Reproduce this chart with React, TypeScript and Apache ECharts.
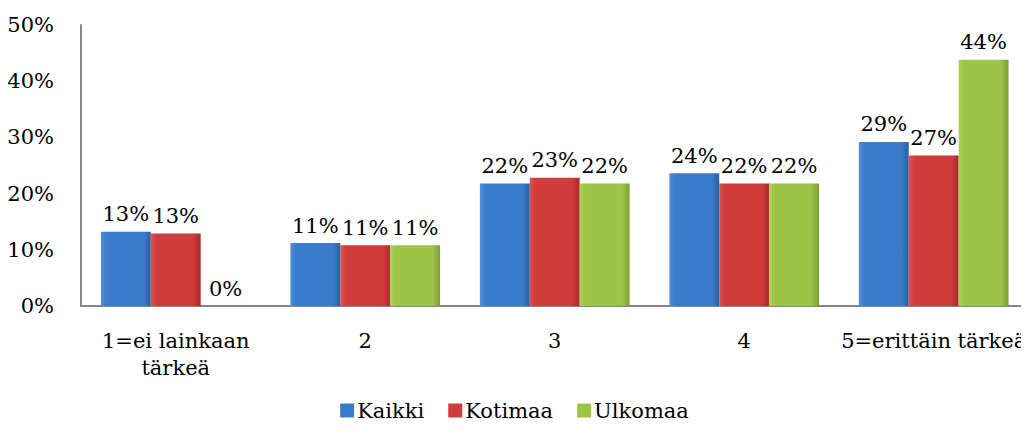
import React, { useEffect, useRef } from "react";
import * as echarts from "echarts";

const categories = ["1=ei lainkaan\ntärkeä", "2", "3", "4", "5=erittäin tärkeä"];
const seriesNames = ["Kaikki", "Kotimaa", "Ulkomaa"];
const kaikki = [13.2, 11.2, 21.8, 23.6, 29.2];
const kotimaa = [12.9, 10.8, 22.8, 21.8, 26.8];
const ulkomaa = [0, 10.8, 21.8, 21.8, 43.8];
const yTicks = [0, 10, 20, 30, 40, 50];

const FONT = "DejaVu Serif";
const FS = 21;

function grad(light: string, mid: string, dark: string) {
  return new echarts.graphic.LinearGradient(0, 0, 1, 0, [
    { offset: 0, color: light },
    { offset: 0.12, color: mid },
    { offset: 0.85, color: mid },
    { offset: 1, color: dark },
  ]);
}

const colors = [
  { base: "#3a7bcb", g: () => grad("#4f8fdb", "#3a7bcb", "#2a5f9f") },
  { base: "#d13b3b", g: () => grad("#de5252", "#d03b3b", "#a82b2b") },
  { base: "#9cc446", g: () => grad("#abd158", "#9cc446", "#7d9e34") },
];

export default function App() {
  const ref = useRef<HTMLDivElement>(null);
  useEffect(() => {
    if (!ref.current) return;
    const chart = echarts.init(ref.current, undefined, { renderer: "svg" });
    const data = [kaikki, kotimaa, ulkomaa];
    chart.setOption({
      animation: false,
      textStyle: { fontFamily: FONT },
      grid: { left: 81, right: -2, top: 25, bottom: 129, containLabel: false },
      legend: {
        data: seriesNames.map((n, i) => ({ name: n, itemStyle: { color: colors[i].base } })),
        bottom: 9,
        left: "center",
        itemWidth: 14,
        itemHeight: 14,
        itemGap: 24,
        icon: "rect",
        textStyle: { fontFamily: FONT, fontSize: FS, color: "#000", padding: [0, 0, 0, -2] },
      },
      xAxis: {
        type: "category",
        data: categories,
        axisLine: { lineStyle: { color: "#868686", width: 2 } },
        axisTick: { show: false },
        axisLabel: {
          fontFamily: FONT,
          fontSize: FS,
          color: "#000",
          margin: 21,
          lineHeight: 27,
          interval: 0,
        },
      },
      yAxis: {
        type: "value",
        min: 0,
        max: 50,
        interval: 10,
        splitLine: { show: false },
        axisLine: { show: true, lineStyle: { color: "#868686", width: 2 } },
        axisTick: { show: false },
        axisLabel: {
          fontFamily: FONT,
          fontSize: FS,
          color: "#000",
          margin: 27,
          formatter: (v: number) => (yTicks.includes(v) ? `${v}%` : ""),
        },
      },
      series: seriesNames.map((name, i) => ({
        name,
        type: "bar",
        data: data[i],
        barGap: "0%",
        barCategoryGap: "21%",
        itemStyle: { color: colors[i].g() },
        label: {
          show: true,
          position: "top",
          distance: 7,
          fontFamily: FONT,
          fontSize: FS,
          color: "#000",
          formatter: (p: any) => `${Math.round(p.value)}%`,
        },
      })),
    });
    return () => chart.dispose();
  }, []);
  return <div ref={ref} style={{ width: 1029, height: 435, margin: -8 }} />;
}
